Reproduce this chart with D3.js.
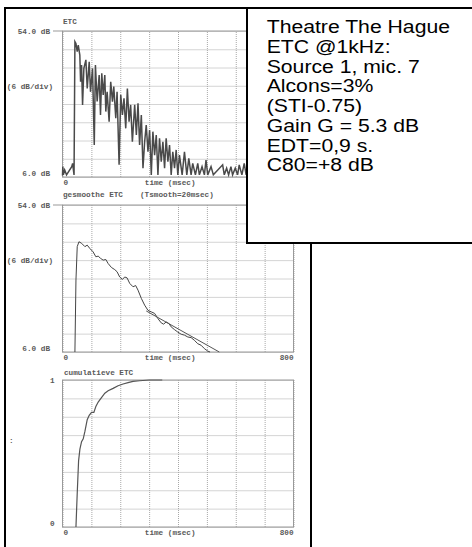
<!DOCTYPE html>
<meta charset="utf-8">
<style>
body { margin: 0; background: #fff; }
.lbl { font-family: "Liberation Mono", "DejaVu Sans Mono", monospace; font-size: 7.7px; font-weight: bold; fill: #5a5a5a; }
.grid line { stroke: #a8a8a8; stroke-dasharray: 1,1; }
.grid path { display: none; }
.info { font-family: Arial, "Liberation Sans", sans-serif; font-size: 18.5px; fill: #000; }
</style>
<svg width="472" height="547"></svg>
<script src="https://d3js.org/d3.v7.min.js"></script>
<script>

// --- data ---
var xTicks = [0, 100, 200, 300, 400, 500, 600, 700, 800];

var etcTime  = [0, 1, 3, 7.5, 14, 32, 35, 40, 43, 46.5, 51, 54.6, 60, 62.6, 66, 69.5, 74, 81, 85.6, 92.5, 97, 104, 110, 114, 120, 127, 131.6, 136, 141, 146.5, 150, 154.6, 161.5, 167, 173, 177.6, 184.5, 189, 196, 201.7, 207.5, 213, 219, 224.7, 230.5, 236, 242, 250, 255.8, 261.5, 267, 273, 278.7, 284.5, 290, 296, 301.7, 307.5, 313, 319, 324.7, 330.5, 336, 342, 347.7, 353.5, 359, 365, 370.7, 376.4, 382, 388, 393.7, 399.4, 405, 414.4, 422.4, 430.5, 437.4, 445.4, 451, 460.3, 468.4, 474, 483.3, 491.4, 497, 503, 514.4, 522.4, 554.6, 560.3, 568.4, 575.3, 583.3, 589, 598.3, 606.4, 612, 621.3, 629.3, 636, 645, 652];
var etcLevel = [6.5, 9.4, 6.7, 8.3, 6.7, 9.4, 10.5, 6.7, 50.5, 49.9, 47.2, 49.4, 46.1, 37.3, 42.8, 29.7, 41.7, 44.5, 35.1, 43.9, 34.0, 41.7, 16.5, 42.8, 30.8, 39.5, 26.4, 40.1, 33.0, 39.5, 27.5, 34.0, 24.2, 37.3, 30.8, 35.7, 25.3, 34.0, 10.0, 33.0, 26.4, 31.9, 22.0, 35.1, 24.2, 29.7, 17.6, 29.7, 19.8, 30.2, 16.5, 26.4, 8.9, 17.6, 23.1, 14.3, 21.4, 6.7, 20.9, 13.2, 19.8, 6.7, 18.7, 11.0, 17.6, 8.9, 18.7, 11.0, 16.5, 6.7, 14.3, 8.9, 14.9, 6.7, 13.2, 6.7, 14.3, 6.7, 12.1, 6.7, 10.5, 6.7, 10.5, 6.7, 9.4, 6.7, 11.6, 6.7, 9.4, 6.7, 10.0, 6.7, 8.9, 6.7, 9.4, 6.7, 8.9, 6.7, 10.0, 6.7, 10.5, 6.7, 9.8, 6.7];

var smoothTime  = [43, 46.6, 51, 57, 66, 77.6, 85.6, 94.8, 106, 115.5, 123.6, 131.6, 140.8, 150, 158, 169.5, 181, 189, 198, 207.5, 215.5, 223.6, 232.8, 244.3, 253.4, 261.5, 273, 284.5, 296, 307.5, 319, 330.5, 342, 350, 359, 368.4, 376.4, 388, 399.4, 411, 422.4, 434, 445.4, 457, 468.4, 480, 491.4, 503, 511];
var smoothLevel = [6.0, 29.5, 40.4, 42.0, 41.5, 40.4, 40.9, 39.8, 38.7, 37.1, 37.3, 36.6, 36.0, 36.2, 34.9, 33.6, 32.9, 32.2, 30.5, 29.7, 30.5, 30.2, 28.4, 27.3, 27.7, 26.2, 23.5, 21.3, 19.6, 19.1, 18.6, 16.9, 15.5, 15.1, 15.8, 15.3, 14.2, 13.3, 12.5, 11.8, 11.5, 10.9, 10.7, 9.8, 8.7, 8.2, 7.1, 6.3, 6.0];

var fitTime  = [290, 543];
var fitLevel = [19.4, 6.0];

var cumTime  = [46.6, 51, 55.7, 60.3, 66, 71.8, 77.6, 85.6, 92.5, 100.6, 108.6, 115.5, 123.6, 135, 146.6, 158, 175.3, 192.5, 209.8, 227, 244.3, 267, 301.7, 345.5];
var cumValue = [0, 0.23, 0.45, 0.53, 0.58, 0.60, 0.65, 0.73, 0.76, 0.78, 0.78, 0.82, 0.85, 0.88, 0.91, 0.927, 0.943, 0.961, 0.973, 0.982, 0.991, 0.995, 1.0, 1.0];

var infoLines = ["Theatre The Hague", "ETC @1kHz:", "Source 1, mic. 7", "Alcons=3%", "(STI-0.75)", "Gain G = 5.3 dB", "EDT=0,9 s.", "C80=+8 dB"];

var svg = d3.select("svg");

var x = d3.scaleLinear().domain([0, 800]).range([62.5, 293.5]);

var panels = [
  { top: 31,  bottom: 177, dom: [6, 54], yTicks: d3.range(6, 55, 6) },
  { top: 205, bottom: 352, dom: [6, 54], yTicks: d3.range(6, 55, 6) },
  { top: 380, bottom: 527, dom: [0, 1],  yTicks: d3.range(0, 1.01, 0.125) }
];

panels.forEach(function(p) {
  p.y = d3.scaleLinear().domain(p.dom).range([p.bottom, p.top]);

  svg.append("g").attr("class", "grid")
    .attr("transform", "translate(0," + p.bottom + ")")
    .call(d3.axisBottom(x).tickValues(xTicks).tickSize(p.top - p.bottom).tickFormat(""));

  svg.append("g").attr("class", "grid")
    .attr("transform", "translate(" + x(0) + ",0)")
    .call(d3.axisLeft(p.y).tickValues(p.yTicks).tickSize(x(0) - x(800)).tickFormat(""));

  svg.append("rect")
    .attr("x", x(0)).attr("y", p.top)
    .attr("width", x(800) - x(0)).attr("height", p.bottom - p.top)
    .attr("fill", "none").attr("stroke", "#999").attr("stroke-width", 1);

  svg.append("text").attr("class", "lbl").attr("x", x(0) + 1).attr("y", p.bottom + 7.5).text("0");
  svg.append("text").attr("class", "lbl").attr("x", x(285)).attr("y", p.bottom + 7.5).text("time (msec)");
  svg.append("text").attr("class", "lbl").attr("x", x(800)).attr("y", p.bottom + 7.5)
    .attr("text-anchor", "end").text("800");
});

// dB panel labels
[panels[0], panels[1]].forEach(function(p) {
  svg.append("line")
    .attr("x1", 53).attr("x2", x(0)).attr("y1", p.y(54)).attr("y2", p.y(54))
    .attr("stroke", "#999");
  svg.append("text").attr("class", "lbl").attr("x", 50).attr("y", p.y(54) + 2.5)
    .attr("text-anchor", "end").text("54.0 dB");
  svg.append("text").attr("class", "lbl").attr("x", 53).attr("y", p.y(36) + 3)
    .attr("text-anchor", "end").text("(6 dB/div)");
  svg.append("text").attr("class", "lbl").attr("x", 50).attr("y", p.y(6) - 1.5)
    .attr("text-anchor", "end").text("6.0 dB");
});

svg.append("text").attr("class", "lbl").attr("x", 63).attr("y", 24).text("ETC");
svg.append("text").attr("class", "lbl").attr("x", 63).attr("y", 197).text("gesmoothe ETC");
svg.append("text").attr("class", "lbl").attr("x", 140).attr("y", 197).text("(Tsmooth=20msec)");
svg.append("text").attr("class", "lbl").attr("x", 64).attr("y", 375).text("cumulatieve ETC");
svg.append("text").attr("class", "lbl").attr("x", 50).attr("y", panels[2].y(1) + 3).text("1");
svg.append("text").attr("class", "lbl").attr("x", 50).attr("y", panels[2].y(0) - 1).text("0");
svg.append("text").attr("class", "lbl").attr("x", 9).attr("y", 443).text(":");

// traces
var etcLine = d3.line()
  .x(function(d, i) { return x(etcTime[i]); })
  .y(function(d) { return panels[0].y(d); });
svg.append("path").datum(etcLevel).attr("d", etcLine)
  .attr("fill", "none").attr("stroke", "#4a4a4a").attr("stroke-width", 1.5);

var smoothLine = d3.line()
  .x(function(d, i) { return x(smoothTime[i]); })
  .y(function(d) { return panels[1].y(d); });
svg.append("path").datum(smoothLevel).attr("d", smoothLine)
  .attr("fill", "none").attr("stroke", "#444").attr("stroke-width", 1);

var fitLine = d3.line()
  .x(function(d, i) { return x(fitTime[i]); })
  .y(function(d) { return panels[1].y(d); });
svg.append("path").datum(fitLevel).attr("d", fitLine)
  .attr("fill", "none").attr("stroke", "#555").attr("stroke-width", 1);

var cumLine = d3.line()
  .x(function(d, i) { return x(cumTime[i]); })
  .y(function(d) { return panels[2].y(d); });
svg.append("path").datum(cumValue).attr("d", cumLine)
  .attr("fill", "none").attr("stroke", "#555").attr("stroke-width", 1.2);

// outer frame
svg.append("rect").attr("x", 5).attr("y", 8).attr("width", 306).attr("height", 570)
  .attr("fill", "none").attr("stroke", "#000").attr("stroke-width", 2);

// info box
svg.append("rect").attr("x", 247).attr("y", 8).attr("width", 240).attr("height", 235)
  .attr("fill", "#fff").attr("stroke", "#000").attr("stroke-width", 2);

svg.selectAll(".info").data(infoLines).enter().append("text")
  .attr("class", "info")
  .attr("transform", function(d, i) { return "translate(266.7," + (33.3 + i * 19.7) + ") scale(1.146,1)"; })
  .text(function(d) { return d; });

</script>
